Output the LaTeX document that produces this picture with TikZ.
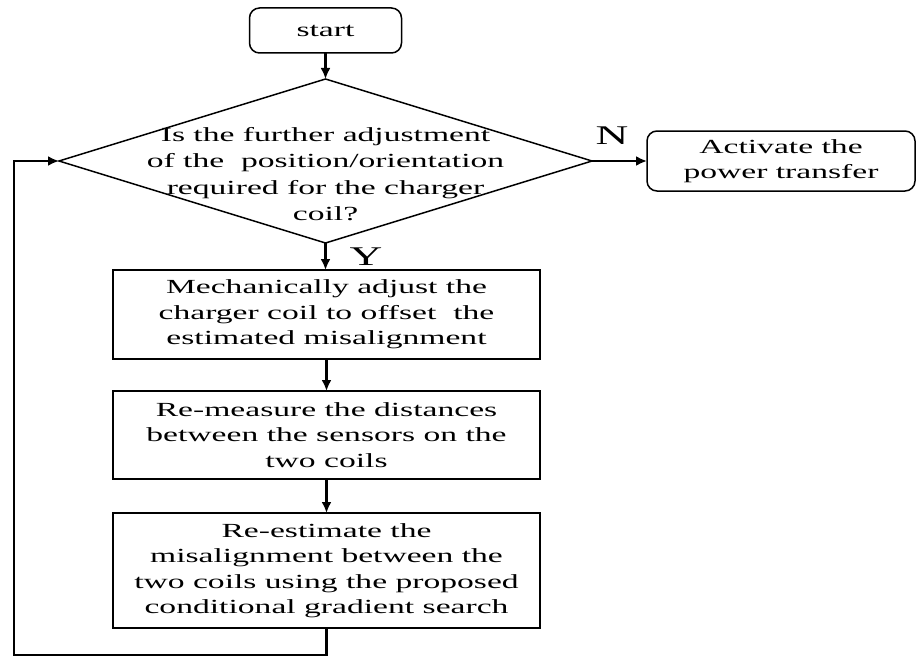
\documentclass[tikz,border=0pt]{standalone}
\usepackage{fontspec}
\setmainfont{Liberation Serif}[FakeStretch=1.68]
\usetikzlibrary{shapes.geometric,arrows.meta}

\begin{document}
\begin{tikzpicture}[x=1pt,y=-1pt,
		box/.style={draw,line width=1.5pt,align=center,minimum width=427pt,inner sep=0pt,outer sep=0pt,
			font=\fontsize{20}{25.5}\selectfont},
		roundbox/.style={box,rounded corners=10pt},
		decision/.style={draw,diamond,line width=1.5pt,minimum width=533pt,minimum height=164pt,
			inner sep=0pt,outer sep=0pt},
		flow/.style={line width=2.2pt,-{Latex[length=11pt,width=10pt]}},
		answer/.style={font=\fontsize{27}{30}\selectfont}]
	\useasboundingbox (0,0) rectangle (917,658);
	% nodes
	\node[roundbox,minimum width=152pt,minimum height=45pt] (start) at (325.5,30.5) {start};
	\node[decision] (ask) at (325.5,161) {};
	\node[align=center,font=\fontsize{20}{26.5}\selectfont] (askText) at (325.5,174)
		{Is the further adjustment\\of the\ \ position/orientation\\required for the charger\\coil?};
	\node[roundbox,minimum width=268pt,minimum height=60pt] (power) at (781,161)
		{Activate the\\power transfer};
	\node[box,minimum height=89pt] (adjust) at (326.5,314.5)
		{Mechanically adjust the\\charger coil to offset\ \ the\\estimated misalignment};
	\node[box,minimum height=88pt] (remeasure) at (326.5,435)
		{Re-measure the distances\\between the sensors on the\\two coils};
	\node[box,minimum height=115pt] (reestimate) at (326.5,570.5)
		{Re-estimate the\\misalignment between the\\two coils using the proposed\\conditional gradient search};
	\node[answer] (yes) at (366,257) {Y};
	\node[answer] (no) at (612,136) {N};
	\coordinate (loopCorner) at (14,655);
	% arrows
	\draw[flow] (start) -- (ask);
	\draw[flow] (ask.east) -- (power.west);
	\draw[flow] (ask.south) -- (adjust.north -| ask.south);
	\draw[flow] (adjust) -- (remeasure);
	\draw[flow] (remeasure) -- (reestimate);
	\draw[flow] (reestimate.south) |- (loopCorner) |- (ask.west);
\end{tikzpicture}
\end{document}
